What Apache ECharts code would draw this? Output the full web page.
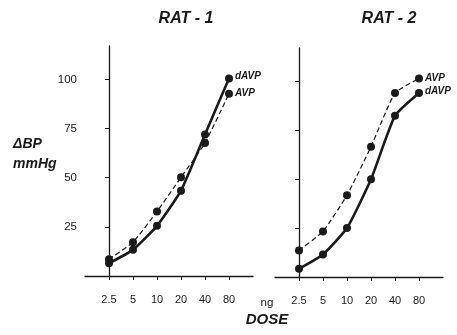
<!DOCTYPE html>
<html>
<head>
<meta charset="utf-8">
<script src="https://cdn.jsdelivr.net/npm/echarts@6/dist/echarts.min.js"></script>
<style>
html,body{margin:0;padding:0;background:#fff;}
#c{width:457px;height:335px;}
</style>
</head>
<body>
<div id="c"></div>
<script>
const doses = ['2.5', '5', '10', '20', '40', '80'];
const rat1_dAVP = [6.5, 13.3, 25.5, 43.4, 72, 100.5];
const rat1_AVP = [8.5, 17.2, 32.8, 50.2, 67.7, 92.7];
const rat2_AVP = [13.6, 23.3, 41.8, 66.6, 94, 101.4];
const rat2_dAVP = [4.2, 11.5, 25, 49.9, 82.4, 94];
const yTicks = [25, 50, 75, 100];

const toPts = arr => arr.map((v, i) => [i, v]);
const idx = doses.map((d, i) => i);
const ink = '#1a1a1a';
const labelFont = 'Liberation Sans, Arial, sans-serif';

function xAxis(gi) {
  return {
    type: 'value', gridIndex: gi, min: -1, max: 6,
    axisLine: { show: true, lineStyle: { color: ink, width: 1.3 } },
    axisTick: { show: true, customValues: idx, length: 4, lineStyle: { color: ink, width: 1 } },
    axisLabel: { show: true, customValues: idx, margin: 18, color: ink, fontSize: 11, fontFamily: labelFont,
      formatter: v => doses[Math.round(v)] },
    splitLine: { show: false }
  };
}
function yAxis(gi, showLabels) {
  return {
    type: 'value', gridIndex: gi, min: 0, max: 117,
    axisLine: { show: true, lineStyle: { color: ink, width: 1.3 } },
    axisTick: { show: true, customValues: yTicks, length: 4, lineStyle: { color: ink, width: 1 } },
    axisLabel: { show: showLabels, customValues: yTicks, margin: 8, color: ink, fontSize: 11.5, fontFamily: labelFont },
    splitLine: { show: false }
  };
}
function series(gi, data, solid, name, offY) {
  return {
    type: 'line', xAxisIndex: gi, yAxisIndex: gi, data: toPts(data),
    symbol: 'circle', symbolSize: 8, smooth: 0.15,
    itemStyle: { color: ink },
    lineStyle: solid ? { color: ink, width: 2.6 } : { color: ink, width: 1.2, type: [5, 3] },
    z: solid ? 3 : 2,
    endLabel: { show: true, formatter: name, distance: 6, offset: [0, offY], color: ink,
      fontSize: 10, fontStyle: 'italic', fontWeight: 'bold', fontFamily: labelFont },
    animation: false
  };
}

const chart = echarts.init(document.getElementById('c'), null, { renderer: 'canvas' });
chart.setOption({
  animation: false,
  grid: [
    { left: 85, top: 46, width: 168, height: 230 },
    { left: 275, top: 48, width: 168, height: 229 }
  ],
  xAxis: [xAxis(0), xAxis(1)],
  yAxis: [yAxis(0, true), yAxis(1, false)],
  title: [
    { text: 'RAT - 1', left: 181, top: 6, textAlign: 'center',
      textStyle: { fontSize: 16, fontWeight: 'bold', fontStyle: 'italic', color: ink, fontFamily: labelFont } },
    { text: 'RAT - 2', left: 384, top: 6, textAlign: 'center',
      textStyle: { fontSize: 16, fontWeight: 'bold', fontStyle: 'italic', color: ink, fontFamily: labelFont } },
    { text: 'ΔBP', left: 8, top: 132,
      textStyle: { fontSize: 14, fontWeight: 'bold', fontStyle: 'italic', color: ink, fontFamily: labelFont } },
    { text: 'mmHg', left: 8, top: 152,
      textStyle: { fontSize: 14, fontWeight: 'bold', fontStyle: 'italic', color: ink, fontFamily: labelFont } },
    { text: 'ng', left: 262, top: 292, textAlign: 'center',
      textStyle: { fontSize: 11.5, fontWeight: 'normal', color: ink, fontFamily: labelFont } },
    { text: 'DOSE', left: 262, top: 307, textAlign: 'center',
      textStyle: { fontSize: 15, fontWeight: 'bold', fontStyle: 'italic', color: ink, fontFamily: labelFont } }
  ],
  series: [
    series(0, rat1_AVP, false, 'AVP', -1),
    series(0, rat1_dAVP, true, 'dAVP', -2),
    series(1, rat2_AVP, false, 'AVP', 0),
    series(1, rat2_dAVP, true, 'dAVP', -2)
  ]
});
</script>
</body>
</html>
